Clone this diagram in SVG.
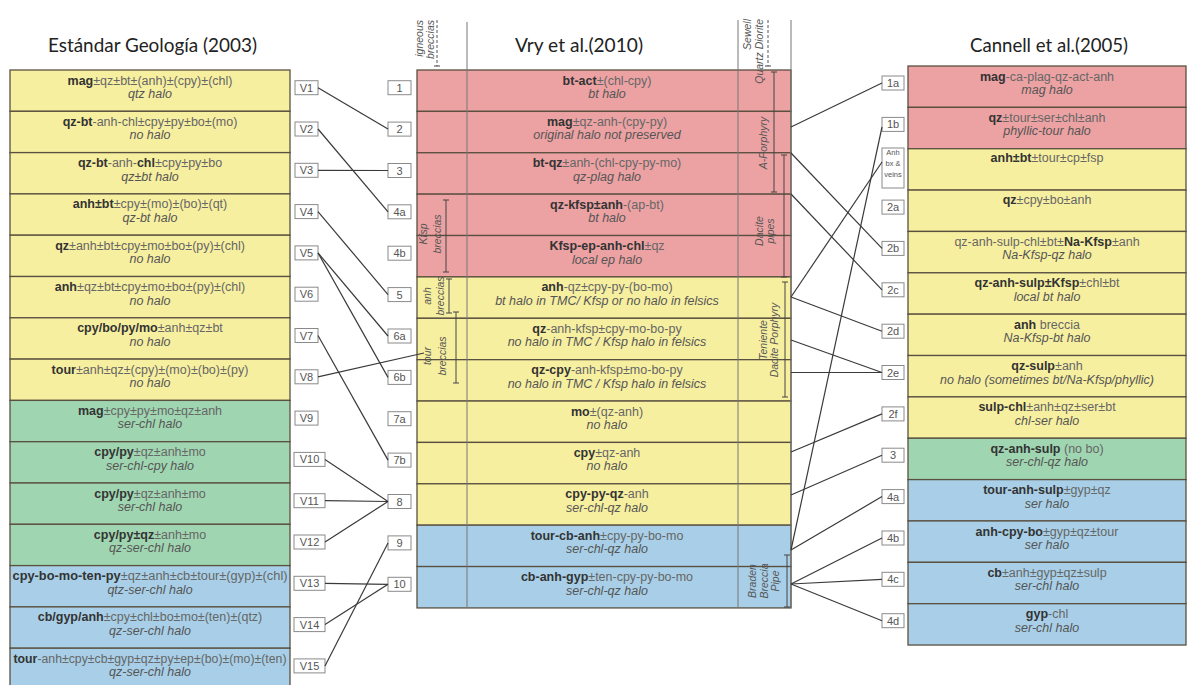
<svg xmlns="http://www.w3.org/2000/svg" width="1188" height="685" viewBox="0 0 1188 685">
<style>
.y{fill:#f7efa0}.r{fill:#eca2a3}.g{fill:#a0d5b1}.bl{fill:#a8cfe7}
.cell{stroke:#5a5040;stroke-width:1.3}
.t{font-family:"Liberation Sans",Arial,sans-serif;font-size:12.5px;text-anchor:middle;fill:#666}
.t .b{font-weight:bold;fill:#333}
.i{font-family:"Liberation Sans",Arial,sans-serif;font-size:12.5px;font-style:italic;text-anchor:middle;fill:#555}
.ttl{font-family:Lato,"Open Sans",sans-serif;font-size:19px;fill:#222}
.bx{fill:#fff;stroke:#8a8a8a;stroke-width:1}
.bt{font-family:"Liberation Sans",Arial,sans-serif;font-size:11px;text-anchor:middle;fill:#555}
.rl{font-family:"Liberation Sans",Arial,sans-serif;font-size:10.5px;font-style:italic;fill:#555}
.vl{stroke:#777;stroke-width:1;fill:none}
.bar{stroke:#444;stroke-width:1;fill:none}
.dash{stroke:#555;stroke-width:1;stroke-dasharray:3 2;fill:none}
.c{stroke:#3a3a3a;stroke-width:1.2;fill:none}
</style>

<text class="ttl" x="48" y="52" textLength="209" lengthAdjust="spacingAndGlyphs">Estándar Geología (2003)</text>
<text class="ttl" x="515" y="52" textLength="128" lengthAdjust="spacingAndGlyphs">Vry et al.(2010)</text>
<text class="ttl" x="970" y="52" textLength="158" lengthAdjust="spacingAndGlyphs">Cannell et al.(2005)</text>

<!-- LEFT COLUMN -->
<g id="L1"><rect class="y cell" x="10" y="70" width="280" height="41.3"/><text class="t" x="150" y="84.5"><tspan class="b">mag</tspan>±qz±bt±(anh)±(cpy)±(chl)</text><text class="i" x="150" y="98">qtz halo</text></g>
<g id="L2"><rect class="y cell" x="10" y="111.3" width="280" height="41.3"/><text class="t" x="150" y="125.8"><tspan class="b">qz-bt</tspan>-anh-chl±cpy±py±bo±(mo)</text><text class="i" x="150" y="139.3">no halo</text></g>
<g id="L3"><rect class="y cell" x="10" y="152.6" width="280" height="41.3"/><text class="t" x="150" y="167.1"><tspan class="b">qz-bt</tspan>-anh-<tspan class="b">chl</tspan>±cpy±py±bo</text><text class="i" x="150" y="180.6">qz±bt halo</text></g>
<g id="L4"><rect class="y cell" x="10" y="193.9" width="280" height="41.3"/><text class="t" x="150" y="208.4"><tspan class="b">anh±bt</tspan>±cpy±(mo)±(bo)±(qt)</text><text class="i" x="150" y="221.9">qz-bt halo</text></g>
<g id="L5"><rect class="y cell" x="10" y="235.2" width="280" height="41.3"/><text class="t" x="150" y="249.7"><tspan class="b">qz</tspan>±anh±bt±cpy±mo±bo±(py)±(chl)</text><text class="i" x="150" y="263.2">no halo</text></g>
<g id="L6"><rect class="y cell" x="10" y="276.5" width="280" height="41.3"/><text class="t" x="150" y="291"><tspan class="b">anh</tspan>±qz±bt±cpy±mo±bo±(py)±(chl)</text><text class="i" x="150" y="304.5">no halo</text></g>
<g id="L7"><rect class="y cell" x="10" y="317.8" width="280" height="41.3"/><text class="t" x="150" y="332.3"><tspan class="b">cpy/bo/py/mo</tspan>±anh±qz±bt</text><text class="i" x="150" y="345.8">no halo</text></g>
<g id="L8"><rect class="y cell" x="10" y="359.1" width="280" height="41.3"/><text class="t" x="150" y="373.6"><tspan class="b">tour</tspan>±anh±qz±(cpy)±(mo)±(bo)±(py)</text><text class="i" x="150" y="387.1">no halo</text></g>
<g id="L9"><rect class="g cell" x="10" y="400.4" width="280" height="41.3"/><text class="t" x="150" y="414.9"><tspan class="b">mag</tspan>±cpy±py±mo±qz±anh</text><text class="i" x="150" y="428.4">ser-chl halo</text></g>
<g id="L10"><rect class="g cell" x="10" y="441.7" width="280" height="41.3"/><text class="t" x="150" y="456.2"><tspan class="b">cpy/py</tspan>±qz±anh±mo</text><text class="i" x="150" y="469.7">ser-chl-cpy halo</text></g>
<g id="L11"><rect class="g cell" x="10" y="483" width="280" height="41.3"/><text class="t" x="150" y="497.5"><tspan class="b">cpy/py</tspan>±qz±anh±mo</text><text class="i" x="150" y="511">ser-chl halo</text></g>
<g id="L12"><rect class="g cell" x="10" y="524.3" width="280" height="41.3"/><text class="t" x="150" y="538.8"><tspan class="b">cpy/py±qz</tspan>±anh±mo</text><text class="i" x="150" y="552.3">qz-ser-chl halo</text></g>
<g id="L13"><rect class="bl cell" x="10" y="565.6" width="280" height="41.3"/><text class="t" x="150" y="580.1" textLength="275" lengthAdjust="spacingAndGlyphs"><tspan class="b">cpy-bo-mo-ten-py</tspan>±qz±anh±cb±tour±(gyp)±(chl)</text><text class="i" x="150" y="593.6">qtz-ser-chl halo</text></g>
<g id="L14"><rect class="bl cell" x="10" y="606.9" width="280" height="41.3"/><text class="t" x="150" y="621.4"><tspan class="b">cb/gyp/anh</tspan>±cpy±chl±bo±mo±(ten)±(qtz)</text><text class="i" x="150" y="634.9">qz-ser-chl halo</text></g>
<g id="L15"><rect class="bl cell" x="10" y="648.2" width="280" height="41.3"/><text class="t" x="150" y="662.7" textLength="273" lengthAdjust="spacingAndGlyphs"><tspan class="b">tour</tspan>-anh±cpy±cb±gyp±qz±py±ep±(bo)±(mo)±(ten)</text><text class="i" x="150" y="676.2">qz-ser-chl halo</text></g>

<!-- V boxes -->
<g id="V1"><rect class="bx" x="295" y="80.7" width="23" height="14"/><text class="bt" x="306.5" y="91.7">V1</text></g>
<g id="V2"><rect class="bx" x="295" y="122" width="23" height="14"/><text class="bt" x="306.5" y="133">V2</text></g>
<g id="V3"><rect class="bx" x="295" y="163.3" width="23" height="14"/><text class="bt" x="306.5" y="174.3">V3</text></g>
<g id="V4"><rect class="bx" x="295" y="204.6" width="23" height="14"/><text class="bt" x="306.5" y="215.6">V4</text></g>
<g id="V5"><rect class="bx" x="295" y="245.9" width="23" height="14"/><text class="bt" x="306.5" y="256.9">V5</text></g>
<g id="V6"><rect class="bx" x="295" y="287.2" width="23" height="14"/><text class="bt" x="306.5" y="298.2">V6</text></g>
<g id="V7"><rect class="bx" x="295" y="328.5" width="23" height="14"/><text class="bt" x="306.5" y="339.5">V7</text></g>
<g id="V8"><rect class="bx" x="295" y="369.8" width="23" height="14"/><text class="bt" x="306.5" y="380.8">V8</text></g>
<g id="V9"><rect class="bx" x="295" y="411.1" width="23" height="14"/><text class="bt" x="306.5" y="422.1">V9</text></g>
<g id="V10"><rect class="bx" x="294" y="452.4" width="31" height="14"/><text class="bt" x="309.5" y="463.4">V10</text></g>
<g id="V11"><rect class="bx" x="294" y="493.7" width="31" height="14"/><text class="bt" x="309.5" y="504.7">V11</text></g>
<g id="V12"><rect class="bx" x="294" y="535" width="31" height="14"/><text class="bt" x="309.5" y="546">V12</text></g>
<g id="V13"><rect class="bx" x="294" y="576.3" width="31" height="14"/><text class="bt" x="309.5" y="587.3">V13</text></g>
<g id="V14"><rect class="bx" x="294" y="617.6" width="31" height="14"/><text class="bt" x="309.5" y="628.6">V14</text></g>
<g id="V15"><rect class="bx" x="294" y="658.9" width="31" height="14"/><text class="bt" x="309.5" y="669.9">V15</text></g>

<!-- MIDDLE COLUMN -->
<g id="M1"><rect class="r cell" x="417" y="70" width="374" height="41.38"/><text class="t" x="607" y="84.5"><tspan class="b">bt-act</tspan>±(chl-cpy)</text><text class="i" x="607" y="98">bt halo</text></g>
<g id="M2"><rect class="r cell" x="417" y="111.38" width="374" height="41.38"/><text class="t" x="607" y="125.9"><tspan class="b">mag</tspan>±qz-anh-(cpy-py)</text><text class="i" x="607" y="139.4">original halo not preserved</text></g>
<g id="M3"><rect class="r cell" x="417" y="152.76" width="374" height="41.38"/><text class="t" x="607" y="167.3"><tspan class="b">bt-qz</tspan>±anh-(chl-cpy-py-mo)</text><text class="i" x="607" y="180.8">qz-plag halo</text></g>
<g id="M4"><rect class="r cell" x="417" y="194.14" width="374" height="41.38"/><text class="t" x="607" y="208.6"><tspan class="b">qz-kfsp±anh</tspan>-(ap-bt)</text><text class="i" x="607" y="222.1">bt halo</text></g>
<g id="M5"><rect class="r cell" x="417" y="235.52" width="374" height="41.38"/><text class="t" x="607" y="250"><tspan class="b">Kfsp-ep-anh-chl</tspan>±qz</text><text class="i" x="607" y="263.5">local ep halo</text></g>
<g id="M6"><rect class="y cell" x="417" y="276.9" width="374" height="41.38"/><text class="t" x="607" y="291.4"><tspan class="b">anh</tspan>-qz±cpy-py-(bo-mo)</text><text class="i" x="607" y="304.9">bt halo in TMC/ Kfsp or no halo in felsics</text></g>
<g id="M7"><rect class="y cell" x="417" y="318.28" width="374" height="41.38"/><text class="t" x="607" y="332.8"><tspan class="b">qz</tspan>-anh-kfsp±cpy-mo-bo-py</text><text class="i" x="607" y="346.3">no halo in TMC / Kfsp halo in felsics</text></g>
<g id="M8"><rect class="y cell" x="417" y="359.66" width="374" height="41.38"/><text class="t" x="607" y="374.2"><tspan class="b">qz-cpy</tspan>-anh-kfsp±mo-bo-py</text><text class="i" x="607" y="387.7">no halo in TMC / Kfsp halo in felsics</text></g>
<g id="M9"><rect class="y cell" x="417" y="401.04" width="374" height="41.38"/><text class="t" x="607" y="415.5"><tspan class="b">mo</tspan>±(qz-anh)</text><text class="i" x="607" y="429">no halo</text></g>
<g id="M10"><rect class="y cell" x="417" y="442.42" width="374" height="41.38"/><text class="t" x="607" y="456.9"><tspan class="b">cpy</tspan>±qz-anh</text><text class="i" x="607" y="470.4">no halo</text></g>
<g id="M11"><rect class="y cell" x="417" y="483.8" width="374" height="41.38"/><text class="t" x="607" y="498.3"><tspan class="b">cpy-py-qz</tspan>-anh</text><text class="i" x="607" y="511.8">ser-chl-qz halo</text></g>
<g id="M12"><rect class="bl cell" x="417" y="525.18" width="374" height="41.38"/><text class="t" x="607" y="539.7"><tspan class="b">tour-cb-anh</tspan>±cpy-py-bo-mo</text><text class="i" x="607" y="553.2">ser-chl-qz halo</text></g>
<g id="M13"><rect class="bl cell" x="417" y="566.56" width="374" height="41.38"/><text class="t" x="607" y="581.1"><tspan class="b">cb-anh-gyp</tspan>±ten-cpy-py-bo-mo</text><text class="i" x="607" y="594.6">ser-chl-qz halo</text></g>

<g id="middle-frame">
<path class="vl" d="M467 22V608M738 20V608M791 20V608"/>
<path class="dash" d="M437 20V66"/><path class="bar" d="M434 66H440"/>
<path class="dash" d="M768 20V66"/><path class="bar" d="M765 66H771"/>
<text class="rl" transform="translate(422.5,20) rotate(-90)" text-anchor="end">igneous</text>
<text class="rl" transform="translate(434,20) rotate(-90)" text-anchor="end">breccias</text>
<text class="rl" transform="translate(750.5,19) rotate(-90)" text-anchor="end">Sewell</text>
<text class="rl" transform="translate(762.5,19) rotate(-90)" text-anchor="end">Quartz Diorite</text>
</g>

<g id="range-labels">
<path class="bar" d="M446 200V272M443 200H449M443 272H449"/>
<text class="rl" transform="translate(427,234) rotate(-90)" text-anchor="middle">Kfsp</text>
<text class="rl" transform="translate(441,234) rotate(-90)" text-anchor="middle">breccias</text>
<path class="bar" d="M449 279V313M446 279H452M446 313H452"/>
<text class="rl" transform="translate(430.5,296) rotate(-90)" text-anchor="middle">anh</text>
<text class="rl" transform="translate(444,296) rotate(-90)" text-anchor="middle">breccias</text>
<path class="bar" d="M456 312V383M453 312H459M453 383H459"/>
<text class="rl" transform="translate(430.5,356) rotate(-90)" text-anchor="middle">tour</text>
<text class="rl" transform="translate(446,356) rotate(-90)" text-anchor="middle">breccias</text>
<path class="bar" d="M774 72V192M771 72H777M771 192H777"/>
<text class="rl" transform="translate(767,143) rotate(-90)" text-anchor="middle">A-Porphyry</text>
<path class="bar" d="M784 155V277M781 155H787M781 277H787"/>
<text class="rl" transform="translate(762.5,231) rotate(-90)" text-anchor="middle">Dacite</text>
<text class="rl" transform="translate(774,231) rotate(-90)" text-anchor="middle">pipes</text>
<path class="bar" d="M785 282V397M782 282H788M782 397H788"/>
<text class="rl" transform="translate(766.5,340) rotate(-90)" text-anchor="middle">Teniente</text>
<text class="rl" transform="translate(778,340) rotate(-90)" text-anchor="middle">Dacite Porphyry</text>
<path class="bar" d="M787 555V607M784 555H790M784 607H790"/>
<text class="rl" transform="translate(756,581) rotate(-90)" text-anchor="middle">Braden</text>
<text class="rl" transform="translate(767.5,581) rotate(-90)" text-anchor="middle">Breccia</text>
<text class="rl" transform="translate(779,581) rotate(-90)" text-anchor="middle">Pipe</text>
</g>

<!-- middle number boxes -->
<g id="N1"><rect class="bx" x="388" y="80.7" width="23" height="14"/><text class="bt" x="399.5" y="91.7">1</text></g>
<g id="N2"><rect class="bx" x="388" y="122.1" width="23" height="14"/><text class="bt" x="399.5" y="133.1">2</text></g>
<g id="N3"><rect class="bx" x="388" y="163.5" width="23" height="14"/><text class="bt" x="399.5" y="174.5">3</text></g>
<g id="N4a"><rect class="bx" x="388" y="204.8" width="23" height="14"/><text class="bt" x="399.5" y="215.8">4a</text></g>
<g id="N4b"><rect class="bx" x="388" y="246.2" width="23" height="14"/><text class="bt" x="399.5" y="257.2">4b</text></g>
<g id="N5"><rect class="bx" x="388" y="287.6" width="23" height="14"/><text class="bt" x="399.5" y="298.6">5</text></g>
<g id="N6a"><rect class="bx" x="388" y="329" width="23" height="14"/><text class="bt" x="399.5" y="340">6a</text></g>
<g id="N6b"><rect class="bx" x="388" y="370.4" width="23" height="14"/><text class="bt" x="399.5" y="381.4">6b</text></g>
<g id="N7a"><rect class="bx" x="388" y="411.7" width="23" height="14"/><text class="bt" x="399.5" y="422.7">7a</text></g>
<g id="N7b"><rect class="bx" x="388" y="453.1" width="23" height="14"/><text class="bt" x="399.5" y="464.1">7b</text></g>
<g id="N8"><rect class="bx" x="388" y="494.5" width="23" height="14"/><text class="bt" x="399.5" y="505.5">8</text></g>
<g id="N9"><rect class="bx" x="388" y="535.9" width="23" height="14"/><text class="bt" x="399.5" y="546.9">9</text></g>
<g id="N10"><rect class="bx" x="388" y="577.3" width="23" height="14"/><text class="bt" x="399.5" y="588.3">10</text></g>

<!-- RIGHT COLUMN -->
<g id="R1"><rect class="r cell" x="908" y="66" width="278" height="41.36"/><text class="t" x="1047" y="80.5"><tspan class="b">mag</tspan>-ca-plag-qz-act-anh</text><text class="i" x="1047" y="94">mag halo</text></g>
<g id="R2"><rect class="r cell" x="908" y="107.36" width="278" height="41.36"/><text class="t" x="1047" y="121.9"><tspan class="b">qz</tspan>±tour±ser±chl±anh</text><text class="i" x="1047" y="135.4">phyllic-tour halo</text></g>
<g id="R3"><rect class="y cell" x="908" y="148.72" width="278" height="41.36"/><text class="t" x="1047" y="162.2"><tspan class="b">anh±bt</tspan>±tour±cp±fsp</text></g>
<g id="R4"><rect class="y cell" x="908" y="190.08" width="278" height="41.36"/><text class="t" x="1047" y="203.6"><tspan class="b">qz</tspan>±cpy±bo±anh</text></g>
<g id="R5"><rect class="y cell" x="908" y="231.44" width="278" height="41.36"/><text class="t" x="1047" y="245.9">qz-anh-sulp-chl±bt±<tspan class="b">Na-Kfsp</tspan>±anh</text><text class="i" x="1047" y="259.4">Na-Kfsp-qz halo</text></g>
<g id="R6"><rect class="y cell" x="908" y="272.8" width="278" height="41.36"/><text class="t" x="1047" y="287.3"><tspan class="b">qz-anh-sulp±Kfsp</tspan>±chl±bt</text><text class="i" x="1047" y="300.8">local bt halo</text></g>
<g id="R7"><rect class="y cell" x="908" y="314.16" width="278" height="41.36"/><text class="t" x="1047" y="328.7"><tspan class="b">anh</tspan> breccia</text><text class="i" x="1047" y="342.2">Na-Kfsp-bt halo</text></g>
<g id="R8"><rect class="y cell" x="908" y="355.52" width="278" height="41.36"/><text class="t" x="1047" y="370"><tspan class="b">qz-sulp</tspan>±anh</text><text class="i" x="1047" y="383.5">no halo (sometimes bt/Na-Kfsp/phyllic)</text></g>
<g id="R9"><rect class="y cell" x="908" y="396.88" width="278" height="41.36"/><text class="t" x="1047" y="411.4"><tspan class="b">sulp-chl</tspan>±anh±qz±ser±bt</text><text class="i" x="1047" y="424.9">chl-ser halo</text></g>
<g id="R10"><rect class="g cell" x="908" y="438.24" width="278" height="41.36"/><text class="t" x="1047" y="452.7"><tspan class="b">qz-anh-sulp</tspan> (no bo)</text><text class="i" x="1047" y="466.2">ser-chl-qz halo</text></g>
<g id="R11"><rect class="bl cell" x="908" y="479.6" width="278" height="41.36"/><text class="t" x="1047" y="494.1"><tspan class="b">tour-anh-sulp</tspan>±gyp±qz</text><text class="i" x="1047" y="507.6">ser halo</text></g>
<g id="R12"><rect class="bl cell" x="908" y="520.96" width="278" height="41.36"/><text class="t" x="1047" y="535.5"><tspan class="b">anh-cpy-bo</tspan>±gyp±qz±tour</text><text class="i" x="1047" y="549">ser halo</text></g>
<g id="R13"><rect class="bl cell" x="908" y="562.32" width="278" height="41.36"/><text class="t" x="1047" y="576.8"><tspan class="b">cb</tspan>±anh±gyp±qz±sulp</text><text class="i" x="1047" y="590.3">ser-chl halo</text></g>
<g id="R14"><rect class="bl cell" x="908" y="603.68" width="278" height="41.36"/><text class="t" x="1047" y="618.2"><tspan class="b">gyp</tspan>-chl</text><text class="i" x="1047" y="631.7">ser-chl halo</text></g>

<!-- right boxes -->
<g id="C1a"><rect class="bx" x="882" y="76" width="22" height="14"/><text class="bt" x="893" y="87">1a</text></g>
<g id="C1b"><rect class="bx" x="882" y="117.4" width="22" height="14"/><text class="bt" x="893" y="128.4">1b</text></g>
<g id="CAnh"><rect class="bx" x="882" y="148" width="22" height="40"/><text class="bt" style="font-size:7.5px" x="893" y="155">Anh</text><text class="bt" style="font-size:7.5px" x="893" y="166">bx &amp;</text><text class="bt" style="font-size:7.5px" x="893" y="177">veins</text></g>
<g id="C2a"><rect class="bx" x="882" y="200.1" width="22" height="14"/><text class="bt" x="893" y="211.1">2a</text></g>
<g id="C2b"><rect class="bx" x="882" y="241.4" width="22" height="14"/><text class="bt" x="893" y="252.4">2b</text></g>
<g id="C2c"><rect class="bx" x="882" y="282.8" width="22" height="14"/><text class="bt" x="893" y="293.8">2c</text></g>
<g id="C2d"><rect class="bx" x="882" y="324.2" width="22" height="14"/><text class="bt" x="893" y="335.2">2d</text></g>
<g id="C2e"><rect class="bx" x="882" y="365.5" width="22" height="14"/><text class="bt" x="893" y="376.5">2e</text></g>
<g id="C2f"><rect class="bx" x="882" y="406.9" width="22" height="14"/><text class="bt" x="893" y="417.9">2f</text></g>
<g id="C3"><rect class="bx" x="882" y="448.2" width="22" height="14"/><text class="bt" x="893" y="459.2">3</text></g>
<g id="C4a"><rect class="bx" x="882" y="489.6" width="22" height="14"/><text class="bt" x="893" y="500.6">4a</text></g>
<g id="C4b"><rect class="bx" x="882" y="531" width="22" height="14"/><text class="bt" x="893" y="542">4b</text></g>
<g id="C4c"><rect class="bx" x="882" y="572.3" width="22" height="14"/><text class="bt" x="893" y="583.3">4c</text></g>
<g id="C4d"><rect class="bx" x="882" y="613.7" width="22" height="14"/><text class="bt" x="893" y="624.7">4d</text></g>

<!-- CONNECTORS -->
<g id="connectors">
<path class="c" d="M318 87.7L388 129.1"/>
<path class="c" d="M318 129L388 211.8"/>
<path class="c" d="M318 170.3L388 170.5"/>
<path class="c" d="M318 211.6L388 294.6"/>
<path class="c" d="M318 252.9L388 336"/>
<path class="c" d="M318 252.9L388 377.4"/>
<path class="c" d="M318 335.5L388 460.1"/>
<path class="c" d="M318 376.8L424 353"/>
<path class="c" d="M325 459.4L388 501.5"/>
<path class="c" d="M325 500.7L388 501.5"/>
<path class="c" d="M325 542L388 501.5"/>
<path class="c" d="M325 583.3L388 584.3"/>
<path class="c" d="M325 624.6L388 584.3"/>
<path class="c" d="M325 665.9L388 542.9"/>

<path class="c" d="M791 127L882 83"/>
<path class="c" d="M791 153L882 248.4"/>
<path class="c" d="M791 194L882 289.8"/>
<path class="c" d="M791 297L882 162"/>
<path class="c" d="M791 297L882 331.2"/>
<path class="c" d="M791 340L882 372.5"/>
<path class="c" d="M791 372.5L882 372.5"/>
<path class="c" d="M791 452L882 413.9"/>
<path class="c" d="M791 495L882 455.2"/>
<path class="c" d="M791 550L882 496.6"/>
<path class="c" d="M791 550L882 127"/>
<path class="c" d="M791 584L882 538"/>
<path class="c" d="M791 584L882 579.3"/>
<path class="c" d="M791 584L882 620.7"/>
</g>
</svg>
